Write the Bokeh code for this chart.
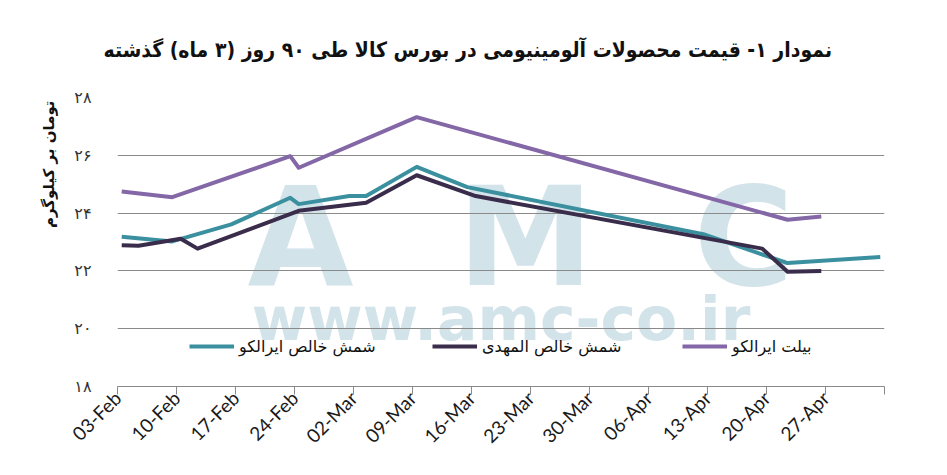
import numpy as np
import pandas as pd
from bokeh.plotting import figure
from bokeh.models import Range1d, FixedTicker, Legend, LegendItem, Title
from bokeh.core.properties import value
from bokeh.embed import file_html
from bokeh.resources import INLINE

# ---------------- data ----------------
start_date = "2020-02-03"
tick_labels = ["03-Feb", "10-Feb", "17-Feb", "24-Feb", "02-Mar", "09-Mar", "16-Mar",
               "23-Mar", "30-Mar", "06-Apr", "13-Apr", "20-Apr", "27-Apr"]
y_ticks = [18, 20, 22, 24, 26, 28]
y_tick_labels = ["۱۸", "۲۰", "۲۲", "۲۴", "۲۶", "۲۸"]

teal_name = "شمش خالص ایرالکو"
teal_dates = ["2020-02-03", "2020-02-09", "2020-02-16", "2020-02-23", "2020-02-24",
              "2020-03-01", "2020-03-03", "2020-03-09", "2020-03-15", "2020-04-12",
              "2020-04-22", "2020-05-03"]
teal_vals = [23.18, 23.02, 23.61, 24.53, 24.31, 24.59, 24.59, 25.60, 24.90, 23.27, 22.27, 22.48]

dark_name = "شمش خالص المهدی"
dark_dates = ["2020-02-03", "2020-02-05", "2020-02-10", "2020-02-12", "2020-02-24",
              "2020-03-03", "2020-03-09", "2020-03-16", "2020-04-19", "2020-04-22",
              "2020-04-26"]
dark_vals = [22.89, 22.87, 23.11, 22.77, 24.08, 24.36, 25.31, 24.59, 22.77, 21.97, 22.00]

purple_name = "بیلت ایرالکو"
purple_dates = ["2020-02-03", "2020-02-09", "2020-02-23", "2020-02-24", "2020-03-09",
                "2020-04-22", "2020-04-26"]
purple_vals = [24.75, 24.55, 25.97, 25.57, 27.32, 23.77, 23.88]

title_text = "نمودار ۱- قیمت محصولات آلومینیومی در بورس کالا طی ۹۰ روز (۳ ماه) گذشته"
y_title_text = "تومان بر کیلوگرم"

wm_letters = ["A", "M", "C"]
wm_letter_x = [21.7, 48.4, 74.3]
wm_letter_y = [23.15, 23.15, 23.15]
wm_url = ["www.amc-co.ir"]
wm_url_x = [45.5]
wm_url_y = [20.35]

TEAL = "#3b909f"
DARK = "#3a2d4b"
PURPLE = "#8467a7"
WM = "#d3e3ea"
GRID = "#8a8a8a"

start = pd.Timestamp(start_date)


def to_x(dates):
    return [(pd.Timestamp(d) - start).days + 0.5 for d in dates]


W, H = 931, 459
p = figure(width=W, height=H, output_backend="svg", toolbar_location=None,
           x_range=Range1d(0, 91), y_range=Range1d(18, 28),
           min_border_left=117, min_border_right=47, min_border_top=96,
           min_border_bottom=73)
p.outline_line_color = None
p.background_fill_color = "white"
p.border_fill_color = "white"

# title
p.title.text = title_text
p.title.align = "left"
p.title.text_font = "DejaVu Sans Condensed"
p.title.text_font_style = "bold"
p.title.text_font_size = "21px"
p.title.text_color = "#111111"
p.title.offset = -14
p.title.standoff = 71

# watermark
p.text(x=wm_letter_x, y=wm_letter_y, text=wm_letters, text_font=value("DejaVu Sans"),
       text_font_style="bold", text_font_size="137px", text_color=WM,
       text_align="center", text_baseline="alphabetic", level="image")
p.text(x=wm_url_x, y=wm_url_y, text=wm_url, text_font=value("DejaVu Sans"),
       text_font_style="bold", text_font_size="60px", text_color=WM,
       text_align="center", text_baseline="alphabetic", level="image")

# lines
r_teal = p.line(to_x(teal_dates), teal_vals, line_width=4, color=TEAL, line_join="round")
r_dark = p.line(to_x(dark_dates), dark_vals, line_width=4, color=DARK, line_join="round")
r_purple = p.line(to_x(purple_dates), purple_vals, line_width=4, color=PURPLE, line_join="round")

# axes
xt = list(range(0, 92, 7))
p.xaxis.ticker = FixedTicker(ticks=xt)
ov = {xt[i]: tick_labels[i] for i in range(len(tick_labels))}
ov[xt[-1]] = ""
p.xaxis.major_label_overrides = ov
p.xaxis.major_label_orientation = np.pi / 4
p.xaxis.axis_line_color = GRID
p.xaxis.major_tick_line_color = GRID
p.xaxis.major_tick_out = 8
p.xaxis.major_tick_in = 0
p.xaxis.minor_tick_line_color = None
p.xaxis.major_label_text_font = "Lato"
p.xaxis.major_label_text_font_size = "19px"
p.xaxis.major_label_text_color = "#1a1a1a"
p.xaxis.major_label_standoff = 0
p.xgrid.visible = False

p.yaxis.ticker = FixedTicker(ticks=y_ticks)
p.yaxis.major_label_overrides = {y_ticks[i]: y_tick_labels[i] for i in range(len(y_ticks))}
p.yaxis.axis_line_color = None
p.yaxis.major_tick_line_color = None
p.yaxis.minor_tick_line_color = None
p.yaxis.major_label_standoff = 20
p.yaxis.major_label_text_font = "DejaVu Sans"
p.yaxis.major_label_text_font_size = "16px"
p.yaxis.major_label_text_color = "#333333"
p.ygrid.ticker = FixedTicker(ticks=y_ticks[1:])
p.ygrid.grid_line_color = GRID
p.ygrid.grid_line_width = 1

p.add_layout(Title(text=y_title_text, align="right", text_font="DejaVu Sans",
                   text_font_style="bold", text_font_size="15px", text_color="#111111",
                   standoff=28, offset=3), "left")

# legends
for name, rend, loc in [(teal_name, r_teal, (72, 30)), (dark_name, r_dark, (315, 30)),
                        (purple_name, r_purple, (565, 30))]:
    leg = Legend(items=[LegendItem(label=name, renderers=[rend])], location=loc,
                 orientation="horizontal", padding=0, margin=0, spacing=0,
                 glyph_width=45, glyph_height=20, label_standoff=5,
                 background_fill_alpha=0, border_line_alpha=0,
                 label_text_font="DejaVu Sans", label_text_font_size="16px",
                 label_text_color="#111111")
    p.add_layout(leg)

open("out.html", "w").write(file_html(p, INLINE))
